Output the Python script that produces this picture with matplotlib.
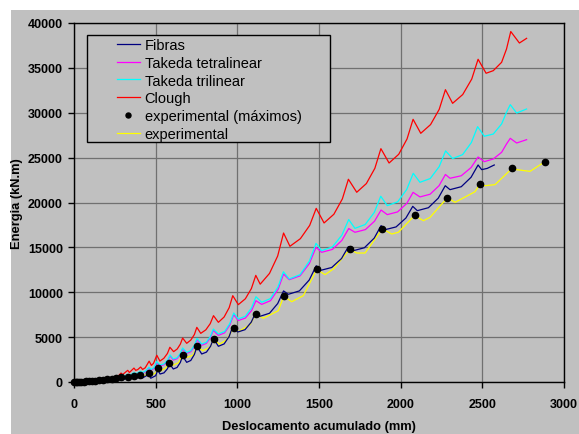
import matplotlib.pyplot as plt
from matplotlib.patches import Rectangle

# Fibras
fib_x = [0, 100, 180, 240, 288, 300, 329, 340, 367, 380, 407, 420, 457, 470, 500, 513, 527, 551, 571, 586,
         608, 631, 651, 665, 690, 715, 737, 753, 782, 811, 836, 854, 884, 919, 950, 972, 1003, 1047, 1085, 1113,
         1139, 1197, 1247, 1283, 1312, 1380, 1440, 1483, 1510, 1578, 1638, 1680, 1710, 1778, 1838, 1880,
         1904, 1972, 2032, 2074, 2102, 2170, 2230, 2273, 2302, 2371, 2431, 2474, 2496, 2530, 2573]
fib_y = [0, 20, 80, 200, 400, 250, 480, 320, 560, 400, 650, 450, 850, 420, 700, 1350, 890, 1020, 1450, 2000,
         1450, 1620, 2180, 2900, 2190, 2400, 3070, 3950, 3120, 3330, 3980, 4830, 3980, 4240, 5080, 6180, 5570, 5830, 6660, 7750,
         7320, 7660, 8740, 10150, 9770, 10150, 11360, 12950, 12440, 12760, 13760, 15080, 14630, 14960, 16030, 17420,
         16970, 17280, 18270, 19570, 19090, 19420, 20480, 21870, 21430, 21760, 22810, 24180, 23660, 23800, 24180]

# Takeda tetralinear
tet_x = [0, 60, 120, 180, 230, 265, 288, 297, 329, 338, 367, 378, 407, 420, 440, 459, 472, 490, 506,
         527, 551, 573, 588, 608, 631, 651, 665, 690, 715, 737, 753, 782, 810, 835, 853, 884, 922, 954, 978,
         1006, 1049, 1087, 1114, 1149, 1203, 1250, 1283, 1318, 1384, 1441, 1482, 1516, 1582, 1640, 1682,
         1720, 1784, 1840, 1880, 1918, 1981, 2037, 2076, 2118, 2180, 2235, 2274, 2302, 2371, 2431, 2474,
         2512, 2567, 2618, 2648, 2671, 2710, 2771]
tet_y = [0, 15, 45, 100, 210, 380, 600, 500, 800, 650, 980, 850, 1120, 980, 1180, 1550, 1320, 1500, 2150,
         1800, 1930, 2350, 2900, 2450, 2600, 3070, 3680, 3200, 3380, 3950, 4700, 4100, 4300, 4930, 5750, 5200, 5480, 6350, 7500,
         6850, 7120, 7960, 9060, 8650, 9060, 10340, 12030, 11400, 11830, 13200, 15000, 14450, 14770, 15780, 17100,
         16680, 16980, 17920, 19160, 18650, 18950, 19890, 21130, 20620, 20920, 21870, 23120, 22700, 22980, 23890, 25070,
         24550, 24850, 25590, 26520, 27150, 26630, 27000]

# Takeda trilinear
tri_x = [0, 60, 120, 180, 230, 265, 288, 297, 329, 338, 367, 378, 407, 420, 440, 459, 472, 490, 506,
         527, 551, 573, 588, 608, 631, 651, 665, 690, 715, 737, 753, 782, 810, 835, 853, 884, 922, 954, 978,
         1006, 1049, 1087, 1114, 1149, 1202, 1249, 1282, 1318, 1384, 1441, 1482, 1516, 1582, 1640, 1682,
         1720, 1783, 1839, 1878, 1918, 1982, 2037, 2077, 2118, 2181, 2236, 2275, 2318, 2379, 2433, 2471,
         2512, 2567, 2618, 2648, 2671, 2710, 2771]
tri_y = [0, 15, 45, 110, 230, 420, 650, 540, 850, 700, 1050, 900, 1200, 1050, 1250, 1640, 1400, 1600, 2270,
         1890, 2020, 2450, 3010, 2560, 2710, 3180, 3790, 3300, 3490, 4080, 4860, 4230, 4430, 5070, 5900, 5350, 5630, 6520, 7690,
         7020, 7320, 8260, 9500, 8880, 9290, 10590, 12290, 11480, 11960, 13470, 15450, 14630, 15050, 16360, 18100,
         17120, 17550, 18910, 20700, 19650, 20080, 21450, 23250, 22250, 22670, 24000, 25750, 24900, 25330, 26680, 28450,
         27380, 27630, 28750, 30050, 30900, 29970, 30420]

# Clough
clo_x = [0, 60, 120, 180, 230, 265, 288, 297, 329, 339, 367, 378, 390, 408, 420, 436, 460, 474, 487, 507,
         526, 550, 572, 587, 610, 632, 651, 665, 690, 715, 737, 752, 776, 807, 834, 854, 884, 919, 950, 972,
         1006, 1049, 1086, 1113, 1140, 1197, 1247, 1283, 1322, 1386, 1443, 1483, 1531, 1591, 1643, 1680,
         1731, 1790, 1842, 1879, 1929, 1988, 2039, 2076, 2123, 2183, 2236, 2274, 2318, 2380, 2435, 2474,
         2523, 2567, 2618, 2648, 2674, 2727, 2771]
clo_y = [0, 20, 60, 150, 320, 560, 1000, 820, 1300, 1060, 1550, 1300, 1380, 1670, 1400, 1580, 2320, 1850, 2080, 2980,
         2330, 2640, 3180, 3870, 3380, 3680, 4220, 4900, 4310, 4670, 5290, 6090, 5420, 5810, 6500, 7390, 6650, 7240, 8280, 9620,
         8620, 9270, 10410, 11880, 10900, 12100, 14040, 16600, 15120, 15970, 17450, 19350, 17720, 18690, 20400, 22590,
         21140, 22110, 23810, 26000, 24400, 25370, 27080, 29270, 27710, 28680, 30380, 32570, 31050, 32030, 33750, 35960,
         34400, 34690, 35620, 37100, 39050, 37770, 38290]

# experimental curve
exp_x = [0, 20, 45, 75, 110, 155, 205, 255, 288, 300, 329, 340, 367, 380, 407, 420, 440, 457, 472, 500,
         516, 532, 565, 584, 604, 640, 667, 694, 730, 753, 788, 833, 855, 890, 935, 978, 1006, 1078, 1114,
         1159, 1251, 1284, 1333, 1404, 1486, 1537, 1588, 1688, 1731, 1782, 1888, 1945, 1986, 2086, 2139, 2180,
         2286, 2333, 2455, 2486, 2517, 2578, 2684, 2710, 2792, 2884]
exp_y = [0, 5, 15, 40, 80, 150, 260, 410, 520, 380, 600, 480, 700, 560, 800, 640, 750, 1000, 780, 1000,
         1550, 1250, 1600, 2170, 1850, 2150, 3050, 2750, 3010, 4010, 3490, 3870, 4830, 4200, 4710, 6050, 5600, 6400, 7580,
         7100, 7950, 9550, 8950, 9620, 12550, 11960, 12590, 14780, 14370, 14370, 17080, 16490, 16680, 18570, 17970, 18350,
         20540, 20020, 21200, 22060, 21870, 21990, 23840, 23660, 23470, 24550]

# experimental maxima
max_x = [0, 10, 20, 30, 45, 60, 75, 90, 110, 130, 155, 180, 205, 230, 258, 288, 329, 367, 407, 457,
         516, 584, 667, 753, 855, 978, 1114, 1284, 1486, 1688, 1888, 2086, 2286, 2486, 2684, 2884]
max_y = [0, 5, 10, 20, 30, 45, 60, 80, 100, 130, 170, 220, 280, 350, 430, 520, 600, 700, 800, 1000,
         1550, 2170, 3050, 4010, 4830, 6050, 7580, 9550, 12550, 14780, 17080, 18570, 20540, 22060, 23840, 24550]

gray = '#c0c0c0'
W, H = 579, 435
ax_l, ax_r, ax_t, ax_b = 74, 564, 24, 383
aw, ah = ax_r - ax_l, ax_b - ax_t

fig = plt.figure(figsize=(W / 100, H / 100), dpi=100)
fig.patches.append(Rectangle((11 / W, 0), 1, 1 - 11 / H, transform=fig.transFigure,
                             facecolor=gray, edgecolor='none', zorder=-10))
ax = fig.add_axes([ax_l / W, 1 - ax_b / H, aw / W, ah / H])
ax.set_zorder(1)
ax.set_facecolor(gray)

lw = 0.9
l_exp, = ax.plot(exp_x, exp_y, color='#ffff00', lw=lw, label='experimental')
l_fib, = ax.plot(fib_x, fib_y, color='#000080', lw=lw, label='Fibras')
l_tet, = ax.plot(tet_x, tet_y, color='#ff00ff', lw=lw, label='Takeda tetralinear')
l_tri, = ax.plot(tri_x, tri_y, color='#00ffff', lw=lw, label='Takeda trilinear')
l_clo, = ax.plot(clo_x, clo_y, color='#ff0000', lw=lw, label='Clough')
l_max, = ax.plot(max_x, max_y, 'o', color='black', ms=4.5, label='experimental (máximos)',
                 clip_on=False, zorder=5)

ax.set_xlim(0, 3000)
ax.set_ylim(0, 40000)
ax.set_xticks(range(0, 3001, 500))
ax.set_yticks(range(0, 40001, 5000))
ax.grid(True, color='#707070', lw=0.9)
ax.set_axisbelow(True)
for s in ax.spines.values():
    s.set_color('black')
    s.set_linewidth(1.0)
ax.tick_params(direction='out', length=4, width=1)
ax.tick_params(axis='x', pad=7.5)
ax.tick_params(axis='y', pad=4)
for lab in ax.get_xticklabels() + ax.get_yticklabels():
    lab.set_fontfamily('Liberation Sans')
    lab.set_fontweight('bold')
    lab.set_fontsize(9)

ax.set_xlabel('Deslocamento acumulado (mm)', fontfamily='Liberation Sans', fontweight='bold',
              fontsize=9.3, labelpad=7)
ax.set_ylabel('Energia (kN.m)', fontfamily='Liberation Sans', fontweight='bold',
              fontsize=9.3)
ax.yaxis.set_label_coords(-51 / aw, 0.5)

# legend box (drawn separately, Excel style with wide left margin)
ax.add_patch(Rectangle(((87 - ax_l) / aw, (ax_b - 143) / ah), (330 - 87) / aw, (143 - 36) / ah,
                       transform=ax.transAxes, facecolor=gray, edgecolor='black', lw=1.0,
                       zorder=4.5, clip_on=False))
leg = ax.legend(handles=[l_fib, l_tet, l_tri, l_clo, l_max, l_exp],
                loc='upper left', bbox_to_anchor=((117 - ax_l) / aw, 1 - (39 - ax_t) / ah),
                prop={'family': 'Liberation Sans', 'size': 10.5},
                frameon=False, borderaxespad=0, borderpad=0,
                handlelength=1.55, handletextpad=0.35, labelspacing=0.26,
                markerscale=0.8)
leg.set_zorder(6)

fig.savefig('out.png', dpi=100, facecolor='white')
